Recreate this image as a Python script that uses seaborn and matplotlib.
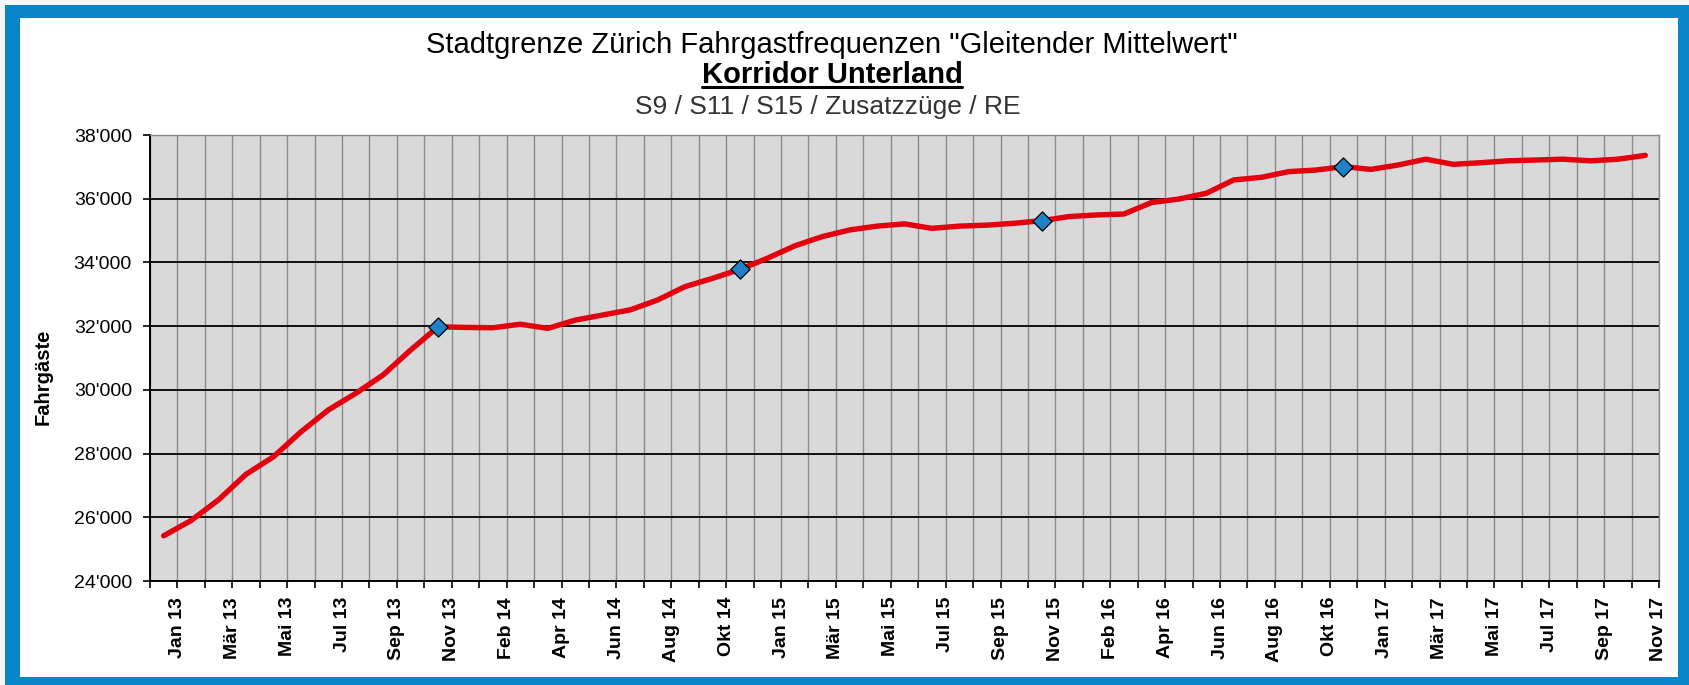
import numpy as np
import pandas as pd
import matplotlib
matplotlib.use("Agg")
import matplotlib.pyplot as plt
import seaborn as sns
from matplotlib.patches import Rectangle
from matplotlib.lines import Line2D
from matplotlib.ticker import FuncFormatter

# ---------------- data ----------------
month_names = ["Jan", "Feb", "Mär", "Apr", "Mai", "Jun", "Jul", "Aug", "Sep", "Okt", "Nov"]
years = ["13", "14", "15", "16", "17"]
categories = [f"{m} {y}" for y in years for m in month_names]

values = [
    25420, 25900, 26550, 27350, 27900, 28680, 29370, 29890, 30470, 31250, 31980,   # 2013
    31960, 31950, 32060, 31930, 32190, 32350, 32510, 32820, 33240, 33500, 33780,   # 2014
    34130, 34520, 34810, 35020, 35140, 35210, 35070, 35140, 35170, 35230, 35310,   # 2015
    35440, 35490, 35520, 35880, 35990, 36170, 36590, 36670, 36850, 36900, 37010,   # 2016
    36920, 37060, 37240, 37080, 37130, 37190, 37215, 37240, 37190, 37240, 37360,   # 2017
]
marker_categories = ["Nov 13", "Nov 14", "Nov 15", "Nov 16"]
y_ticks = [24000, 26000, 28000, 30000, 32000, 34000, 36000, 38000]

title_line1 = 'Stadtgrenze Zürich Fahrgastfrequenzen "Gleitender Mittelwert"'
title_line2 = "Korridor Unterland"
title_line3 = "S9 / S11 / S15 / Zusatzzüge / RE"
y_label = "Fahrgäste"

# ---------------- style ----------------
sns.set_style("white")
plt.rcParams["font.family"] = ["Liberation Sans", "DejaVu Sans"]

W, H = 1690, 685
fig = plt.figure(figsize=(W / 100, H / 100), dpi=100)
fig.patch.set_facecolor("#f4f8fb")

def px_rect(x0, y0, x1, y1, color, z):
    fig.patches.append(Rectangle((x0 / W, 1 - y1 / H), (x1 - x0) / W, (y1 - y0) / H,
                                 transform=fig.transFigure, facecolor=color,
                                 edgecolor="none", zorder=z))

px_rect(5, 5, W, H, "#0a85c8", -10)
px_rect(20, 18, 1678, 677, "white", -9)

ax = fig.add_axes([150 / W, 1 - 581 / H, (1659 - 150) / W, (581 - 135) / H])
ax.set_facecolor("#d9d9d9")

df = pd.DataFrame({"cat": categories, "pos": np.arange(len(categories)), "value": values})
n = len(df)

sns.lineplot(data=df, x="pos", y="value", ax=ax, color="#e3000f", linewidth=3.9,
             solid_capstyle="round", zorder=3)
sns.scatterplot(data=df[df["cat"].isin(marker_categories)], x="pos", y="value", ax=ax,
                marker="D", s=95, color="#1f82c8", edgecolor="black", linewidth=0.9,
                zorder=4)

ax.set_xlim(-0.5, n - 0.5)
ax.set_ylim(y_ticks[0], y_ticks[-1])

# x axis: ticks at category boundaries, label every second category
boundaries = np.arange(n + 1) - 0.5
xlabels = [""] * (n + 1)
for j in range(1, n + 1):
    if (j - 1) % 2 == 0:
        xlabels[j] = df["cat"].iloc[j - 1]
ax.set_xticks(boundaries)
ax.set_xticklabels(xlabels, rotation=90, fontweight="bold", fontsize=14)
ax.set_yticks(y_ticks)
ax.yaxis.set_major_formatter(FuncFormatter(lambda v, p: f"{int(v):,}".replace(",", "'")))
ax.tick_params(axis="y", labelsize=14, length=5, width=1.2, pad=8, colors="black", direction="out", left=True)
ax.tick_params(axis="x", length=5, width=1.2, pad=6.5, colors="black", direction="out", bottom=True)

ax.grid(axis="x", color="#8a8a8a", linewidth=1.0)
ax.grid(axis="y", color="#111111", linewidth=1.4)
ax.set_axisbelow(True)
ax.set_xlabel("")
ax.set_ylabel("")

for side in ["left", "bottom"]:
    ax.spines[side].set_color("black")
    ax.spines[side].set_linewidth(1.4)
for side in ["top", "right"]:
    ax.spines[side].set_color("#8a8a8a")
    ax.spines[side].set_linewidth(1.0)

# titles
cx = 832 / W
fig.text(cx, 1 - 53 / H, title_line1, ha="center", va="baseline", fontsize=21, color="black")
t2 = fig.text(cx, 1 - 83 / H, title_line2, ha="center", va="baseline", fontsize=21,
              fontweight="bold", color="black")
fig.text(828 / W, 1 - 114 / H, title_line3, ha="center", va="baseline", fontsize=19, color="#333333")
fig.text(43 / W, 1 - 377 / H, y_label, rotation=90, ha="center", va="center",
         fontsize=14.5, fontweight="bold", color="black")

# underline for line 2
renderer = fig.canvas.get_renderer()
bb = t2.get_window_extent(renderer=renderer)
uy = 1 - 87 / H
fig.lines.append(Line2D([bb.x0 / W, bb.x1 / W], [uy, uy], transform=fig.transFigure,
                        color="black", linewidth=2.2))

fig.savefig("out.png", dpi=100, facecolor=fig.get_facecolor())
